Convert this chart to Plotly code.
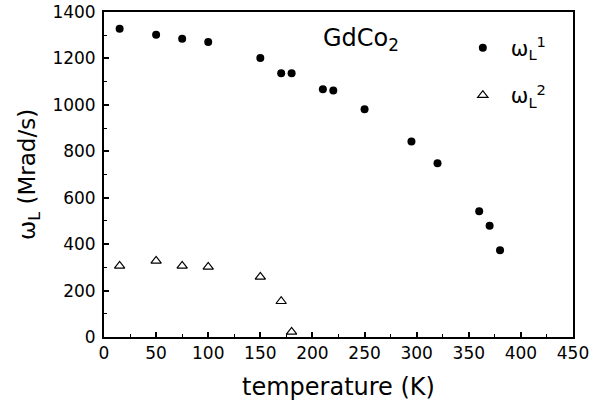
import plotly.graph_objects as go

# omega_L^1 data (filled circles)
temp1 = [15, 50, 75, 100, 150, 170, 180, 210, 220, 250, 295, 320, 360, 370, 380]
omega1 = [1328, 1302, 1285, 1271, 1202, 1136, 1136, 1067, 1062, 981, 842, 748, 542, 479, 374]

# omega_L^2 data (open triangles)
temp2 = [15, 50, 75, 100, 150, 170, 180]
omega2 = [306, 328, 306, 302, 259, 154, 22]

x_ticks = [0, 50, 100, 150, 200, 250, 300, 350, 400, 450]
y_ticks = [0, 200, 400, 600, 800, 1000, 1200, 1400]

FONT = "DejaVu Sans"

fig = go.Figure()
fig.add_trace(go.Scatter(
    x=temp1, y=omega1, mode="markers",
    name="ω<sub>L</sub><sup>1</sup>",
    marker=dict(symbol="circle", size=8, color="black"),
    legend="legend",
))
fig.add_trace(go.Scatter(
    x=temp2, y=omega2, mode="markers",
    name="ω<sub>L</sub><sup>2</sup>",
    marker=dict(symbol="triangle-up-open", size=9, color="black", line=dict(width=1.2)),
    legend="legend2",
))

axis_common = dict(
    showline=True, linecolor="black", linewidth=1.8, mirror=True,
    ticks="inside", ticklen=5, tickwidth=1.5, tickcolor="black",
    showgrid=False, zeroline=False, automargin=False,
    ticklabeloverflow="allow",
    tickfont=dict(family=FONT, size=17, color="black"),
)

fig.update_xaxes(
    range=[0, 450], tickvals=x_ticks,
    minor=dict(ticks="inside", ticklen=3, tickwidth=1.2, tickcolor="black", dtick=25, tick0=0),
    title=dict(text="temperature (K)", font=dict(family=FONT, size=24, color="black"), standoff=16),
    **axis_common,
)
fig.update_yaxes(
    range=[0, 1400], tickvals=y_ticks, ticklabelstandoff=3,
    minor=dict(ticks="inside", ticklen=3, tickwidth=1.2, tickcolor="black", dtick=100, tick0=0),
    title=dict(text="ω<sub>L</sub> (Mrad/s)", font=dict(family=FONT, size=23, color="black"), standoff=10),
    **axis_common,
)

legend_common = dict(
    xref="paper", yref="paper", xanchor="left", yanchor="middle",
    bgcolor="rgba(0,0,0,0)", borderwidth=0,
    font=dict(family=FONT, size=21, color="black"),
    itemwidth=46,
)

fig.update_layout(
    width=592, height=406,
    margin=dict(l=104, r=19, t=12, b=69),
    paper_bgcolor="white", plot_bgcolor="white",
    font=dict(family=FONT, color="black"),
    showlegend=True,
    legend=dict(x=0.748, y=1245 / 1400, **legend_common),
    legend2=dict(x=0.748, y=1040 / 1400, **legend_common),
    annotations=[dict(
        text="GdCo<sub>2</sub>", x=208, y=1280, xref="x", yref="y",
        xanchor="left", yanchor="middle", showarrow=False,
        font=dict(family=FONT, size=24, color="black"),
    )],
)

fig.write_html(
    "out.html",
    config={"displayModeBar": False},
    post_script="document.body.style.margin='0';",
)
